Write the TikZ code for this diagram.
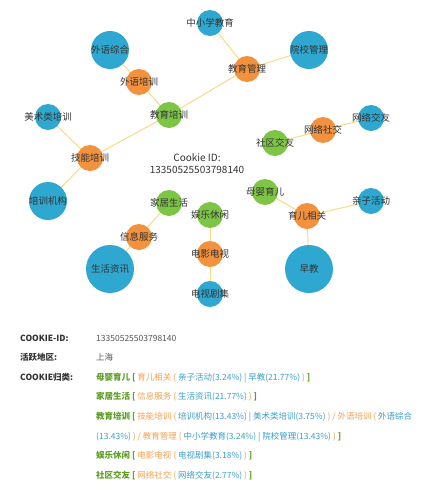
\documentclass[tikz,border=0pt]{standalone}
\usepackage{fontspec}
\setmainfont{Noto Sans CJK SC}
\definecolor{cblue}{HTML}{2EA8D0}
\definecolor{corange}{HTML}{F2913E}
\definecolor{cgreen}{HTML}{7DC545}
\definecolor{cedge}{HTML}{F8DB85}
\definecolor{ctext}{HTML}{333333}
\definecolor{tgreen}{HTML}{5C9E22}
\definecolor{torange}{HTML}{F5A04E}
\definecolor{tblue}{HTML}{3D9FC8}
\definecolor{tgray}{HTML}{555555}
\pgfdeclarelayer{bg}
\pgfdeclarelayer{edges}
\pgfsetlayers{bg,edges,main}
\tikzset{
  bub/.style={circle, draw=none, inner sep=0pt, minimum size=#1},
  bub/.default=26pt,
  bl/.style={bub=#1, fill=cblue},
  bl/.default=26pt,
  og/.style={bub=26pt, fill=corange},
  gr/.style={bub=26pt, fill=cgreen},
  lab/.style={font=\fontsize{9.5}{10}\selectfont, text=ctext, inner sep=0pt},
  link/.style={draw=cedge, line width=1pt},
  row/.style={anchor=base west, inner sep=0pt, font=\fontsize{8.5}{10}\selectfont},
  hdr/.style={anchor=base west, inner sep=0pt, font=\fontsize{8.5}{10}\selectfont\bfseries, text=ctext},
}
\newcommand{\G}[1]{\textcolor{tgreen}{\bfseries #1}}
\newcommand{\Or}[1]{\textcolor{torange}{#1}}
\newcommand{\Bl}[1]{\textcolor{tblue}{#1}}
\begin{document}
\begin{tikzpicture}[x=1pt,y=-1pt]
\begin{pgfonlayer}{bg}
\fill[white] (0,0) rectangle (444,504);
\end{pgfonlayer}
\useasboundingbox (0,0) rectangle (444,504);
% nodes
\node[bl=38pt, label={[lab]center:外语综合}] (wyzh) at (110,50) {};
\node[og, label={[lab]center:外语培训}] (wypx) at (139,82) {};
\node[gr, label={[lab]center:教育培训}] (jypx) at (169,115) {};
\node[bl, label={[lab]center:美术类培训}] (mslpx) at (48,117) {};
\node[og, label={[lab]center:技能培训}] (jnpx) at (90,158) {};
\node[bl=38pt, label={[lab]center:培训机构}] (pxjg) at (48,201) {};
\node[bl, label={[lab]center:中小学教育}] (zxxjy) at (210,23) {};
\node[og, label={[lab]center:教育管理}] (jygl) at (247,69) {};
\node[bl=38pt, label={[lab]center:院校管理}] (yxgl) at (309,50) {};
\node[bl, label={[lab]center:网络交友}] (wljy) at (371,118) {};
\node[og, label={[lab]center:网络社交}] (wlsj) at (323,130) {};
\node[gr, label={[lab]center:社区交友}] (sqjy) at (275,143) {};
\node[gr, label={[lab]center:母婴育儿}] (myye) at (265,192) {};
\node[og, label={[lab]center:育儿相关}] (yexg) at (307,216) {};
\node[bl, label={[lab]center:亲子活动}] (qzhd) at (371,201) {};
\node[bl=48pt, label={[lab]center:早教}] (zj) at (309,269) {};
\node[gr, label={[lab]center:家居生活}] (jjsh) at (169,203) {};
\node[gr, label={[lab]center:娱乐休闲}] (ylxx) at (210,215) {};
\node[og, label={[lab]center:信息服务}] (xxfw) at (139,237) {};
\node[bl=48pt, label={[lab]center:生活资讯}] (shzx) at (110,269) {};
\node[og, label={[lab]center:电影电视}] (dydx) at (210,254) {};
\node[bl, label={[lab]center:电视剧集}] (dsjj) at (210,294) {};
\node[font=\fontsize{10}{12}\selectfont, text=ctext, align=center, inner sep=0pt] (cid) at (197,164) {Cookie ID:\\13350525503798140};
% edges
\begin{pgfonlayer}{edges}
\draw[link] (wyzh.center) -- (wypx.center);
\draw[link] (wypx.center) -- (jypx.center);
\draw[link] (jypx.center) -- (jnpx.center);
\draw[link] (jnpx.center) -- (mslpx.center);
\draw[link] (jnpx.center) -- (pxjg.center);
\draw[link] (jypx.center) -- (jygl.center);
\draw[link] (jygl.center) -- (zxxjy.center);
\draw[link] (jygl.center) -- (yxgl.center);
\draw[link] (sqjy.center) -- (wlsj.center);
\draw[link] (wlsj.center) -- (wljy.center);
\draw[link] (myye.center) -- (yexg.center);
\draw[link] (yexg.center) -- (qzhd.center);
\draw[link] (yexg.center) -- (zj.center);
\draw[link] (jjsh.center) -- (xxfw.center);
\draw[link] (xxfw.center) -- (shzx.center);
\draw[link] (ylxx.center) -- (dydx.center);
\draw[link] (dydx.center) -- (dsjj.center);
\end{pgfonlayer}
% info block
\node[hdr] (h1) at (20,341) {COOKIE-ID:};
\node[hdr] (h2) at (20,360) {活跃地区:};
\node[hdr] (h3) at (20,380) {COOKIE归类:};
\node[row, text=tgray] (v1) at (96,341) {13350525503798140};
\node[row, text=tgray] (v2) at (96,360) {上海};
\node[row] (r1) at (96,380) {\G{母婴育儿 [} \Or{育儿相关 (} \Bl{亲子活动(3.24\%) | 早教(21.77\%)} \Or{)} \G{]}};
\node[row] (r2) at (96,399) {\G{家居生活 [} \Or{信息服务 (} \Bl{生活资讯(21.77\%)} \Or{)} \G{]}};
\node[row] (r3) at (96,419) {\G{教育培训 [} \Or{技能培训 (} \Bl{培训机构(13.43\%) | 美术类培训(3.75\%)} \Or{) / 外语培训 (} \Bl{外语综合}};
\node[row] (r4) at (96,439) {\Bl{(13.43\%)} \Or{) / 教育管理 (} \Bl{中小学教育(3.24\%) | 院校管理(13.43\%)} \Or{)} \G{]}};
\node[row] (r5) at (96,458) {\G{娱乐休闲 [} \Or{电影电视 (} \Bl{电视剧集(3.18\%)} \Or{)} \G{]}};
\node[row] (r6) at (96,478) {\G{社区交友 [} \Or{网络社交 (} \Bl{网络交友(2.77\%)} \Or{)} \G{]}};
\end{tikzpicture}
\end{document}
